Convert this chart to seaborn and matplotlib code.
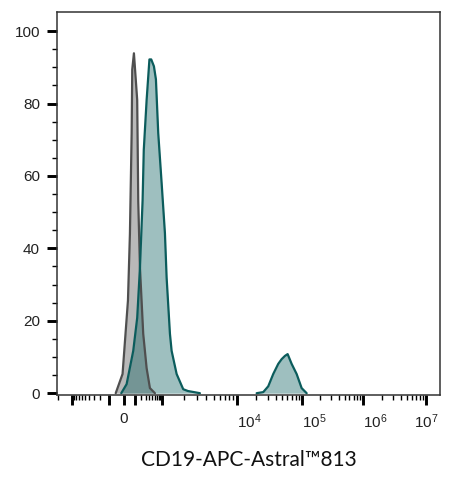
import numpy as np
import pandas as pd
import matplotlib
matplotlib.use("Agg")
import matplotlib.pyplot as plt
import seaborn as sns

# fluorescence values (x) and % of max (y)
gray_x = [-46, -6.5, 29, 46, 63, 69, 88, 131, 147, 175, 238, 319, 416, 607]
gray_y = [0, 5.3, 25.6, 44, 72, 89.4, 93.9, 81, 53, 34.7, 16.4, 6.9, 1.4, 0]

teal_x = [-13, 18.6, 80, 131, 175, 225, 250, 319, 400, 460, 564, 653, 771, 979,
          1102, 1164, 1294, 1365, 1599, 1964, 2272, 3282]
teal_y = [0, 2.5, 11.7, 20.8, 34.7, 53.3, 67.2, 81, 92.2, 92.2, 90.3, 86.7, 71.9, 58.1,
          44.2, 31.9, 16.4, 11.7, 5.3, 1.1, 0.6, 0]

teal2_x = [20140, 25450, 30380, 36260, 43280, 48800, 54850, 60320, 69490, 82920, 98940, 119460]
teal2_y = [0, 0.3, 1.9, 5.3, 8.1, 9.4, 10.3, 10.8, 8.1, 5.3, 1.4, 0]

x_label = "CD19-APC-Astral\u2122813"
label_vals = [0, 1e4, 1e5, 1e6, 1e7]
label_text = ["0", r"$\mathregular{10^{4}}$", r"$\mathregular{10^{5}}$",
              r"$\mathregular{10^{6}}$", r"$\mathregular{10^{7}}$"]

# biexponential-like display scale (anchors: value -> display unit)
anchor_vals = np.array([-1e5, -1e3, 0, 1e3, 1e4, 1e5, 1e6, 1e7, 1e8])
anchor_disp = np.array([-22, 72, 124, 162, 237, 302, 363, 426, 489], dtype=float)


def _u(x):
    x = np.asarray(x, dtype=float)
    return np.sign(x) * np.log10(1 + np.abs(x) / 100.0)


anchor_u = _u(anchor_vals)


def fwd(x):
    return np.interp(_u(x), anchor_u, anchor_disp)


def inv(p):
    u = np.interp(np.asarray(p, dtype=float), anchor_disp, anchor_u)
    return np.sign(u) * (10 ** np.abs(u) - 1) * 100.0


sns.set_style("ticks")
plt.rcParams["font.family"] = ["Liberation Sans", "DejaVu Sans"]
plt.rcParams["mathtext.fontset"] = "custom"
plt.rcParams["mathtext.rm"] = "Liberation Sans"

fig = plt.figure(figsize=(4.5, 4.79), dpi=100)
ax = fig.add_axes([57 / 450, 1 - 395 / 479, 383 / 450, 383 / 479])
ax.set_xscale("function", functions=(fwd, inv))

teal_line = "#0b5c5c"
gray_line = "#4f4f4f"

ax.fill_between(gray_x, gray_y, 0, color="#808080", alpha=0.55, lw=0)
ax.fill_between(teal_x, teal_y, 0, color="#0d5f5f", alpha=0.4, lw=0)
ax.fill_between(teal2_x, teal2_y, 0, color="#0d5f5f", alpha=0.4, lw=0)

gray_df = pd.DataFrame({"x": gray_x, "y": gray_y})
teal_df = pd.DataFrame({"x": teal_x + teal2_x, "y": teal_y + teal2_y,
                        "seg": [0] * len(teal_x) + [1] * len(teal2_x)})
sns.lineplot(data=gray_df, x="x", y="y", sort=False, estimator=None,
             color=gray_line, lw=1.6, ax=ax)
sns.lineplot(data=teal_df, x="x", y="y", units="seg", sort=False, estimator=None,
             color=teal_line, lw=1.6, ax=ax)

ax.set_xlim(-2150, 1.67e7)
ax.set_ylim(-0.5, 105.3)

# x ticks
major_x = [-1e3, -1e2, 0, 1e2, 1e3, 1e4, 1e5, 1e6, 1e7]
minor_x = [-2000] + [-m * 100 for m in range(2, 10)] + [m * 100 for m in range(2, 10)]
for k in range(3, 7):
    minor_x += [m * 10 ** k for m in range(2, 10)]
ax.set_xticks(major_x)
ax.set_xticklabels([label_text[label_vals.index(v)] if v in label_vals else "" for v in major_x])
ax.set_xticks(minor_x, minor=True)
for lab, v in zip(ax.get_xticklabels(), major_x):
    if v in (1e4, 1e5, 1e6):
        lab.set_horizontalalignment("left")

# y ticks
ax.set_yticks(np.arange(0, 101, 20))
ax.set_yticks(np.arange(0, 101, 5), minor=True)

ax.tick_params(axis="both", which="major", length=7.2, width=2.1, color="black",
               labelsize=11, labelcolor="#222222")
ax.tick_params(axis="both", which="minor", length=3.8, width=1.0, color="black")
ax.tick_params(axis="x", which="major", pad=5)
ax.tick_params(axis="y", which="major", pad=5)

for s in ax.spines.values():
    s.set_color("#333333")
    s.set_linewidth(1.1)
    s.set_visible(True)

ax.set_ylabel("")
ax.set_xlabel(x_label, fontsize=15, family=["Lato", "DejaVu Sans"], labelpad=14,
              color="#111111")

fig.savefig("out.png", dpi=100)
